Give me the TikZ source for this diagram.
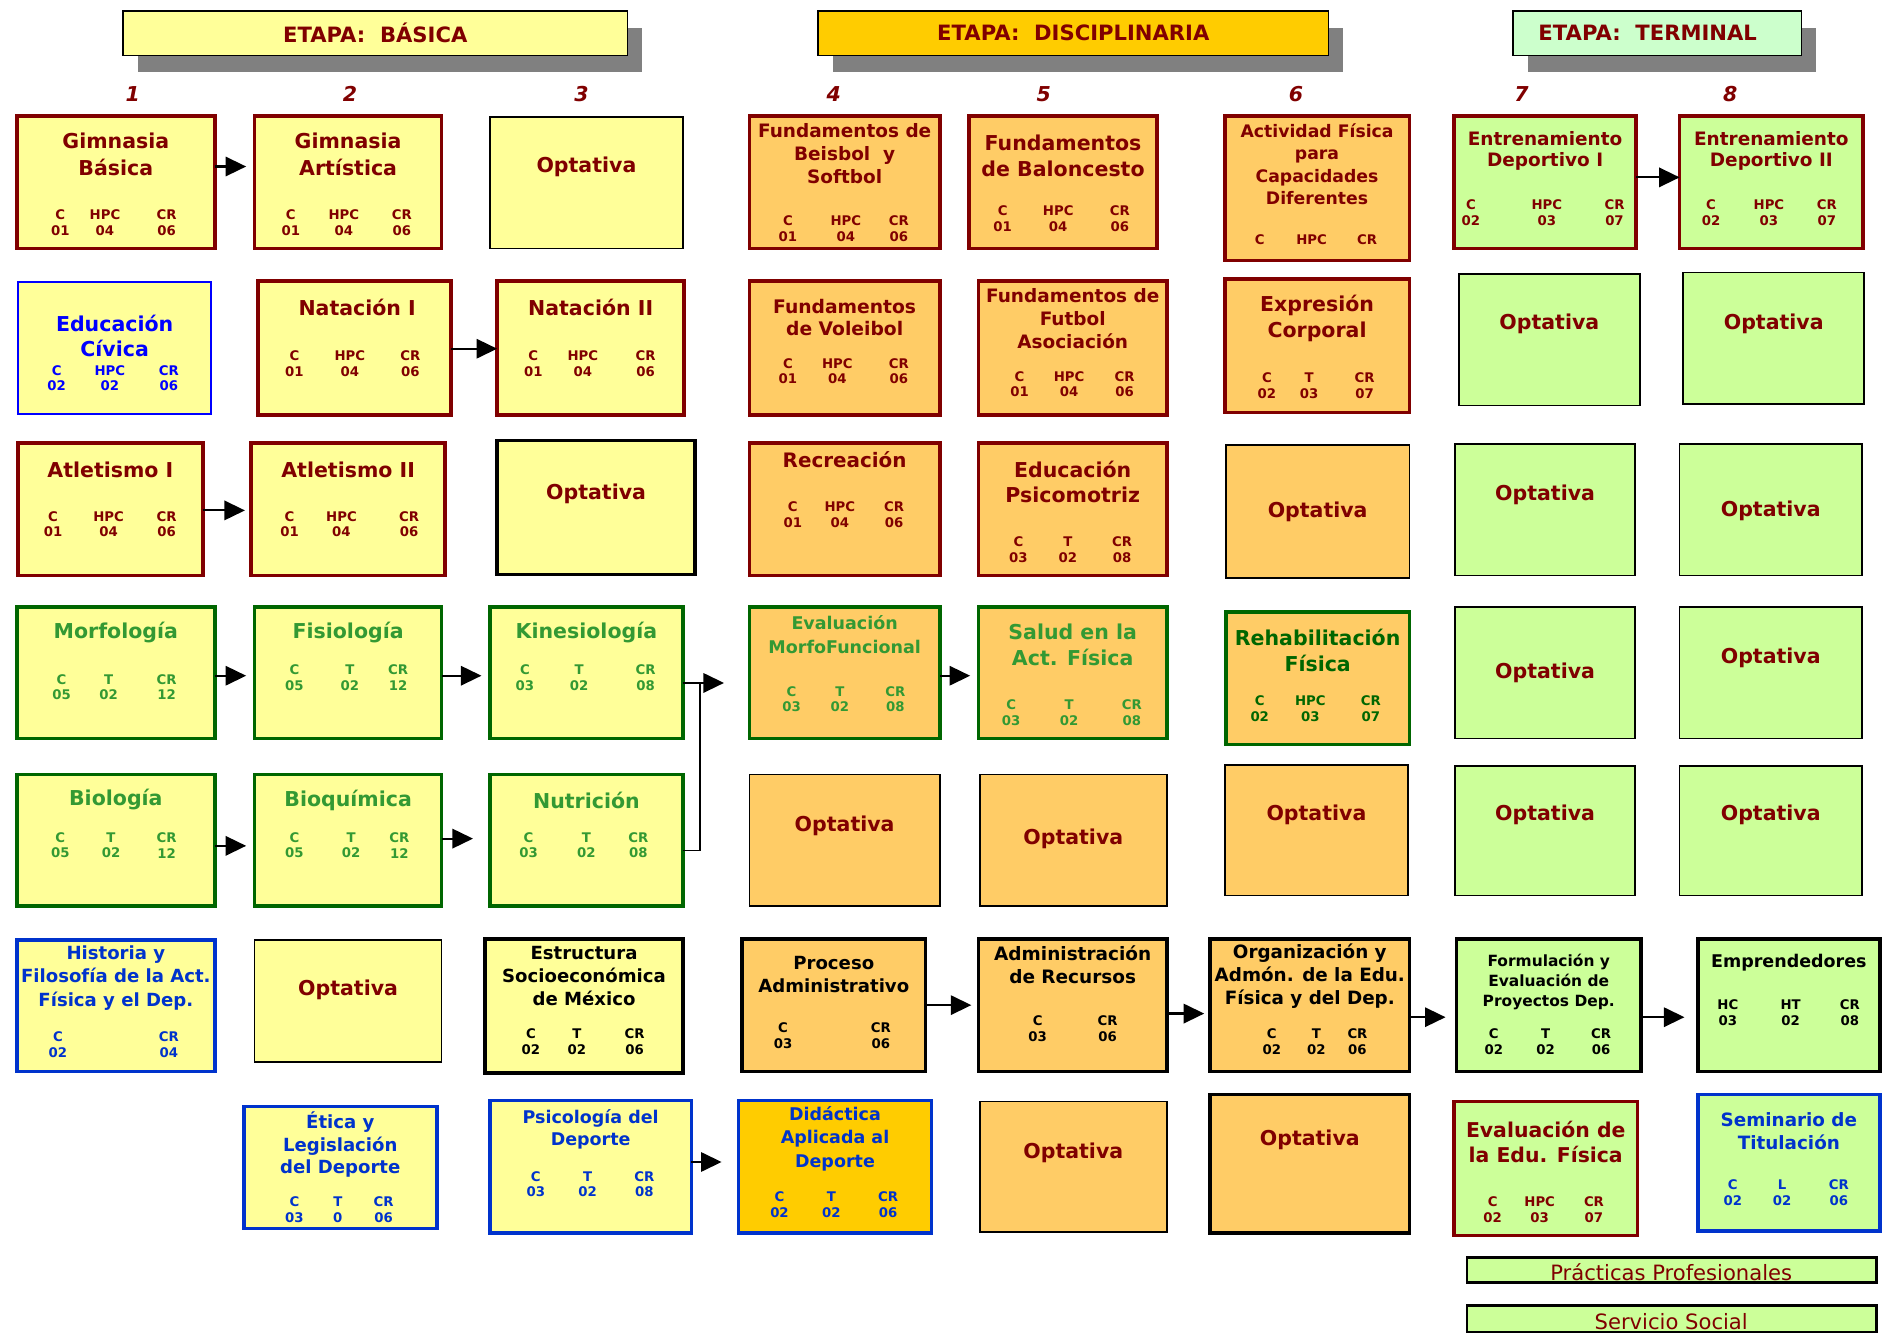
\documentclass[tikz,border=0pt]{standalone}
\usepackage{fontspec}
\setmainfont{DejaVu Sans}
\usetikzlibrary{arrows.meta,shadows}

\definecolor{dred}{HTML}{800000}
\definecolor{tgreen}{HTML}{339933}
\definecolor{dgreen}{HTML}{006600}
\definecolor{bblue}{HTML}{0000FF}
\definecolor{rblue}{HTML}{0033CC}
\definecolor{cyel}{HTML}{FFFF99}
\definecolor{cora}{HTML}{FFCC66}
\definecolor{cgold}{HTML}{FFCC00}
\definecolor{cgrn}{HTML}{CCFF99}
\definecolor{cmint}{HTML}{CCFFCC}
\definecolor{cshadow}{HTML}{808080}

\tikzset{
  box/.style={draw, rectangle, inner sep=0pt, outer sep=0pt},
  redb/.style={box, draw=dred, line width=3pt},
  grnb/.style={box, draw=dgreen, line width=3pt},
  blub/.style={box, draw=rblue, line width=3pt},
  blkb/.style={box, draw=black, line width=3pt},
  optb/.style={box, draw=black, line width=1.3pt},
  thinblue/.style={box, draw=bblue, line width=1.5pt},
  barbox/.style={box, draw=black, line width=2pt, fill=cgrn},
  hdr/.style={box, draw=black, line width=1.3pt, text=dred,
    font=\fontsize{17.5}{20}\selectfont\bfseries,
    drop shadow={shadow xshift=12pt, shadow yshift=-14pt, fill=cshadow, opacity=1}},
  ttl/.style={inner sep=0pt, align=center},
  stat/.style={inner sep=0pt, align=center, font=\fontsize{11}{13}\selectfont\bfseries},
  num/.style={inner sep=0pt, text=dred, font=\fontsize{17}{20}\selectfont\bfseries\itshape},
  bartxt/.style={inner sep=0pt, anchor=base, text=dred, font=\fontsize{17.5}{20}\selectfont},
  arr/.style={line width=1.8pt, -{Triangle[length=17pt,width=16pt]}},
  ln/.style={line width=1.3pt}
}

% course box: name, x1, y1, x2, y2, style
\newcommand\cbox[6]{\node[#6, minimum width={#4pt-#2pt}, minimum height={#5pt-#3pt}] (#1) at ({(#2+#4)/2},{(#3+#5)/2}) {};}
% title: name, position, size, leading, colour, text
\newcommand\ttl[6]{\node[ttl, text=#5, font=\fontsize{#3}{#4}\selectfont\bfseries] (#1) at (#2) {#6};}
% elective title
\newcommand\opt[2]{\node[ttl, text=dred, font=\fontsize{17}{20}\selectfont\bfseries] (#1) at (#2) {Optativa};}
% credit columns: box name, label row, colour, list x/label/value
\newcommand\stats[4]{\foreach \qx/\ql/\qv [count=\qk] in {#4} {\node[stat, text=#3] (#1-s\qk) at (\qx,#2+6.5) {\ql\\\qv};}}
% horizontal arrow between two boxes at a given height
\newcommand\harrow[4]{\coordinate (#1-#2) at (0,#3); \draw[arr, shorten >=#4pt] (#1.east |- #1-#2) -- (#2.west |- #1-#2);}

\begin{document}
\begin{tikzpicture}[x=1pt, y=-1pt]
\fill[white] (0,0) rectangle (1568,1110);
\useasboundingbox (0,0) rectangle (1568,1110);

% stage headers
\node[hdr, fill=cyel, minimum width=418pt, minimum height=37pt] (hb) at (311,27.5) {ETAPA:\ \ BÁSICA};
\node[hdr, fill=cgold, minimum width=423pt, minimum height=37pt] (hd) at (889.5,27.5) {ETAPA:\ \ DISCIPLINARIA};
\node[hdr, fill=cmint, minimum width=239pt, minimum height=37pt] (ht) at (1373.5,27.5) {ETAPA:\ \ TERMINAL\hspace*{16pt}};

% semester numbers
\foreach \cx/\cn in {110/1, 290/2, 482/3, 691/4, 865/5, 1074/6, 1261/7, 1434/8}
  \node[num] (sem\cn) at (\cx,78) {\cn};

% ---------- boxes ----------
% column 1
\cbox{gb}{14}{96}{178}{206}{redb,fill=cyel}
\cbox{ec}{15}{234}{175}{343}{thinblue,fill=cyel}
\cbox{at1}{15}{367}{168}{477}{redb,fill=cyel}
\cbox{mo}{14}{503}{178}{612}{grnb,fill=cyel}
\cbox{bi}{14}{642}{178}{751}{grnb,fill=cyel}
\cbox{hi}{14}{779}{178}{888}{blub,fill=cyel}
% column 2
\cbox{ga}{211}{96}{366}{206}{redb,fill=cyel}
\cbox{n1}{214}{233}{374}{344}{redb,fill=cyel}
\cbox{at2}{208}{367}{369}{477}{redb,fill=cyel}
\cbox{fi}{211}{503}{366}{612}{grnb,fill=cyel}
\cbox{bq}{211}{642}{366}{751}{grnb,fill=cyel}
\cbox{op2}{211}{779}{366}{880}{optb,fill=cyel}
\cbox{et}{202}{917}{362}{1018}{blub,fill=cyel}
% column 3
\cbox{op3a}{406}{97}{566}{206}{optb,fill=cyel}
\cbox{n2}{412}{233}{567}{344}{redb,fill=cyel}
\cbox{op3b}{412}{365}{576}{476}{blkb,fill=cyel}
\cbox{ki}{406}{503}{566}{612}{grnb,fill=cyel}
\cbox{nu}{406}{642}{566}{751}{grnb,fill=cyel}
\cbox{es}{402}{778}{566}{889}{blkb,fill=cyel}
\cbox{ps}{406}{912}{573}{1022}{blub,fill=cyel}
% column 4
\cbox{fb}{621}{96}{779}{206}{redb,fill=cora}
\cbox{fv}{621}{233}{779}{344}{redb,fill=cora}
\cbox{re}{621}{367}{779}{477}{redb,fill=cora}
\cbox{em}{621}{503}{779}{612}{grnb,fill=cora}
\cbox{op4a}{621}{642}{779}{751}{optb,fill=cora}
\cbox{pa}{615}{778}{767}{888}{blkb,fill=cora}
\cbox{di}{612}{912}{772}{1022}{blub,fill=cgold}
% column 5
\cbox{fbc}{803}{96}{959}{206}{redb,fill=cora}
\cbox{ff}{811}{233}{967}{344}{redb,fill=cora}
\cbox{ep}{811}{367}{967}{477}{redb,fill=cora}
\cbox{sa}{811}{503}{967}{612}{grnb,fill=cora}
\cbox{op5a}{812}{642}{967}{751}{optb,fill=cora}
\cbox{ar}{811}{778}{967}{888}{blkb,fill=cora}
\cbox{op5b}{812}{913}{967}{1021}{optb,fill=cora}
% column 6
\cbox{af}{1015}{96}{1168}{216}{redb,fill=cora}
\cbox{ex}{1015}{231}{1168}{342}{redb,fill=cora}
\cbox{op6a}{1016}{369}{1168}{479}{optb,fill=cora}
\cbox{rf}{1016}{507}{1168}{617}{grnb,fill=cora}
\cbox{op6b}{1015}{634}{1167}{742}{optb,fill=cora}
\cbox{or}{1003}{778}{1168}{888}{blkb,fill=cora}
\cbox{op6c}{1003}{907}{1168}{1022}{blkb,fill=cora}
% column 7
\cbox{e1}{1205}{96}{1356}{206}{redb,fill=cgrn}
\cbox{op7a}{1209}{227}{1359}{336}{optb,fill=cgrn}
\cbox{op7b}{1206}{368}{1355}{477}{optb,fill=cgrn}
\cbox{op7c}{1206}{503}{1355}{612}{optb,fill=cgrn}
\cbox{op7d}{1206}{635}{1355}{742}{optb,fill=cgrn}
\cbox{fo}{1207}{778}{1360}{888}{blkb,fill=cgrn}
\cbox{ev}{1205}{913}{1357}{1024}{redb,fill=cgrn}
% column 8
\cbox{e2}{1392}{96}{1544}{206}{redb,fill=cgrn}
\cbox{op8a}{1395}{226}{1545}{335}{optb,fill=cgrn}
\cbox{op8b}{1392}{368}{1543}{477}{optb,fill=cgrn}
\cbox{op8c}{1392}{503}{1543}{612}{optb,fill=cgrn}
\cbox{op8d}{1392}{635}{1543}{742}{optb,fill=cgrn}
\cbox{emp}{1407}{778}{1558}{888}{blkb,fill=cgrn}
\cbox{se}{1407}{907}{1558}{1020}{blub,fill=cgrn}
% practice bars
\cbox{pp}{1216}{1042}{1555}{1063}{barbox}
\cbox{ss}{1216}{1082}{1555}{1104}{barbox}

% ---------- titles ----------
\ttl{gb-t}{96,128}{17}{22}{dred}{Gimnasia\\Básica}
\ttl{ga-t}{288.5,128}{17}{22}{dred}{Gimnasia\\Artística}
\ttl{ec-t}{95,278.5}{17}{21}{bblue}{Educación\\Cívica}
\ttl{n1-t}{296,255}{17}{21}{dred}{Natación I}
\ttl{n2-t}{489.5,255}{17}{21}{dred}{Natación II}
\ttl{at1-t}{91.5,389}{17}{21}{dred}{Atletismo I}
\ttl{at2-t}{288.5,389}{17}{21}{dred}{Atletismo II}
\ttl{mo-t}{96,524}{17}{21}{tgreen}{Morfología}
\ttl{fi-t}{288.5,524}{17}{21}{tgreen}{Fisiología}
\ttl{ki-t}{486,524}{17}{21}{tgreen}{Kinesiología}
\ttl{bi-t}{96,663}{17}{21}{tgreen}{Biología}
\ttl{bq-t}{288.5,663}{17}{21}{tgreen}{Bioquímica}
\ttl{nu-t}{486,663}{17}{21}{tgreen}{Nutrición}
\ttl{hi-t}{96,810.5}{15}{19.5}{rblue}{Historia y\\Filosofía de la Act.\\Física y el Dep.}
\opt{op2-t}{288.5,820}
\ttl{et-t}{282,948.5}{15}{18.5}{rblue}{Ética y\\Legislación\\del Deporte}
\opt{op3a-t}{486,138}
\opt{op3b-t}{494,409}
\ttl{es-t}{484,809}{15}{19}{black}{Estructura\\Socioeconómica\\de México}
\ttl{ps-t}{489.5,936}{14.5}{18}{rblue}{Psicología del\\Deporte}

\ttl{fb-t}{700,127}{15.3}{19}{dred}{Fundamentos de\\Beisbol\ \ y\\Softbol}
\ttl{fv-t}{700,263}{15.5}{18}{dred}{Fundamentos\\de Voleibol}
\ttl{re-t}{700,381}{16.5}{20}{dred}{Recreación}
\ttl{em-t}{700,526}{14.5}{20}{tgreen}{Evaluación\\MorfoFuncional}
\opt{op4a-t}{700,684}
\ttl{pa-t}{691,807.5}{15}{19}{black}{Proceso\\Administrativo}
\ttl{di-t}{692,943.5}{14.5}{19.5}{rblue}{Didáctica\\Aplicada al\\Deporte}

\ttl{fbc-t}{881,129}{17}{22}{dred}{Fundamentos\\de Baloncesto}
\ttl{ff-t}{889,264}{15.3}{19}{dred}{Fundamentos de\\Futbol\\Asociación}
\ttl{ep-t}{889,399.5}{17}{21}{dred}{Educación\\Psicomotriz}
\ttl{sa-t}{889,534.5}{17}{21}{tgreen}{Salud en la\\Act. Física}
\opt{op5a-t}{889.5,695}
\ttl{ar-t}{889,799.5}{15.3}{19}{black}{Administración\\de Recursos}
\opt{op5b-t}{889.5,955}

\ttl{af-t}{1091.5,136}{14.3}{18.7}{dred}{Actividad Física\\para\\Capacidades\\Diferentes}
\ttl{ex-t}{1091.5,264}{17}{22}{dred}{Expresión\\Corporal}
\opt{op6a-t}{1092,424}
\ttl{rf-t}{1092,539}{17}{22}{dgreen}{Rehabilitación\\Física}
\opt{op6b-t}{1091,675}
\ttl{or-t}{1085.5,809}{15.2}{19}{black}{Organización y\\Admón. de la Edu.\\Física y del Dep.}
\opt{op6c-t}{1085.5,945}

\ttl{e1-t}{1280.5,125}{15.3}{18}{dred}{Entrenamiento\\Deportivo I}
\opt{op7a-t}{1284,268}
\opt{op7b-t}{1280.5,410}
\opt{op7c-t}{1280.5,558}
\opt{op7d-t}{1280.5,675}
\ttl{fo-t}{1283.5,813.5}{12.8}{16.5}{black}{Formulación y\\Evaluación de\\Proyectos Dep.}
\ttl{ev-t}{1281,946.5}{16.9}{21}{dred}{Evaluación de\\la Edu. Física}

\ttl{e2-t}{1468,125}{15.3}{18}{dred}{Entrenamiento\\Deportivo II}
\opt{op8a-t}{1470,268}
\opt{op8b-t}{1467.5,423}
\opt{op8c-t}{1467.5,545}
\opt{op8d-t}{1467.5,675}
\ttl{emp-t}{1482.5,798}{14.5}{18}{black}{Emprendedores}
\ttl{se-t}{1482.5,937.5}{15.2}{19}{rblue}{Seminario de\\Titulación}

\node[bartxt] (pp-t) at (1385,1061) {Prácticas Profesionales};
\node[bartxt] (ss-t) at (1385,1102) {Servicio Social};

% ---------- credits ----------
\stats{gb}{178}{dred}{50/C/01, 87/HPC/04, 138/CR/06}
\stats{ga}{178}{dred}{241/C/01, 285/HPC/04, 333/CR/06}
\stats{ec}{307}{bblue}{47/C/02, 91/HPC/02, 140/CR/06}
\stats{n1}{295}{dred}{244/C/01, 290/HPC/04, 340/CR/06}
\stats{n2}{295}{dred}{442/C/01, 483/HPC/04, 535/CR/06}
\stats{at1}{428}{dred}{44/C/01, 90/HPC/04, 138/CR/06}
\stats{at2}{428}{dred}{240/C/01, 283/HPC/04, 339/CR/06}
\stats{mo}{563}{tgreen}{51/C/05, 90/T/02, 138/CR/12}
\stats{fi}{555}{tgreen}{244/C/05, 290/T/02, 330/CR/12}
\stats{ki}{555}{tgreen}{435/C/03, 480/T/02, 535/CR/08}
\stats{bi}{694}{tgreen}{50/C/05, 92/T/02, 138/CR/12}
\stats{bq}{694}{tgreen}{244/C/05, 291/T/02, 331/CR/12}
\stats{nu}{694}{tgreen}{438/C/03, 486/T/02, 529/CR/08}
\stats{hi}{859}{rblue}{48/C/02, 140/CR/04}
\stats{es}{857}{black}{440/C/02, 478/T/02, 526/CR/06}
\stats{et}{996}{rblue}{244/C/03, 280/T/0, 318/CR/06}
\stats{ps}{975}{rblue}{444/C/03, 487/T/02, 534/CR/08}
\stats{fb}{183}{dred}{653/C/01, 701/HPC/04, 745/CR/06}
\stats{fv}{301}{dred}{653/C/01, 694/HPC/04, 745/CR/06}
\stats{re}{420}{dred}{657/C/01, 696/HPC/04, 741/CR/06}
\stats{em}{573}{tgreen}{656/C/03, 696/T/02, 742/CR/08}
\stats{pa}{852}{black}{649/C/03, 730/CR/06}
\stats{di}{992}{rblue}{646/C/02, 689/T/02, 736/CR/06}
\stats{fbc}{175}{dred}{831/C/01, 877/HPC/04, 928/CR/06}
\stats{ff}{312}{dred}{845/C/01, 886/HPC/04, 932/CR/06}
\stats{ep}{449}{dred}{844/C/03, 885/T/02, 930/CR/08}
\stats{sa}{584}{tgreen}{838/C/03, 886/T/02, 938/CR/08}
\stats{ar}{846}{black}{860/C/03, 918/CR/06}
\foreach \qx/\ql [count=\qk] in {1044/C, 1087/HPC, 1133/CR}
  \node[stat, text=dred] (af-s\qk) at (\qx,199) {\ql};
\stats{ex}{313}{dred}{1050/C/02, 1085/T/03, 1131/CR/07}
\stats{rf}{581}{dgreen}{1044/C/02, 1086/HPC/03, 1136/CR/07}
\stats{or}{857}{black}{1054/C/02, 1091/T/02, 1125/CR/06}
\stats{e1}{170}{dred}{1219/C/02, 1282/HPC/03, 1338/CR/07}
\stats{e2}{170}{dred}{1418/C/02, 1466/HPC/03, 1514/CR/07}
\stats{fo}{857}{black}{1238/C/02, 1281/T/02, 1327/CR/06}
\stats{emp}{833}{black}{1432/HC/03, 1484/HT/02, 1533/CR/08}
\stats{ev}{996}{dred}{1237/C/02, 1276/HPC/03, 1321/CR/07}
\stats{se}{982}{rblue}{1436/C/02, 1477/L/02, 1524/CR/06}

% ---------- prerequisites ----------
\harrow{gb}{ga}{138}{7}
\harrow{n1}{n2}{289}{0}
\harrow{at1}{at2}{423}{5}
\harrow{mo}{fi}{560}{7}
\harrow{fi}{ki}{560}{7}
\harrow{em}{sa}{560}{7}
\harrow{bi}{bq}{701}{7}
\harrow{bq}{nu}{695}{14}
\harrow{e1}{e2}{147}{0}
\harrow{pa}{ar}{833}{6}
\harrow{ar}{or}{840}{5}
\harrow{or}{fo}{843}{9}
\harrow{fo}{emp}{843}{11}
\harrow{ps}{di}{963}{14}

% Kinesiología and Nutrición both lead to Evaluación MorfoFuncional
\coordinate (jt) at (580,566);
\coordinate (jb) at (580,705);
\draw[ln] (ki.east |- jt) -- (jt) -- (jb) -- (nu.east |- jb);
\draw[arr, shorten >=21pt] (jt) -- (em.west |- jt);
\end{tikzpicture}
\end{document}
